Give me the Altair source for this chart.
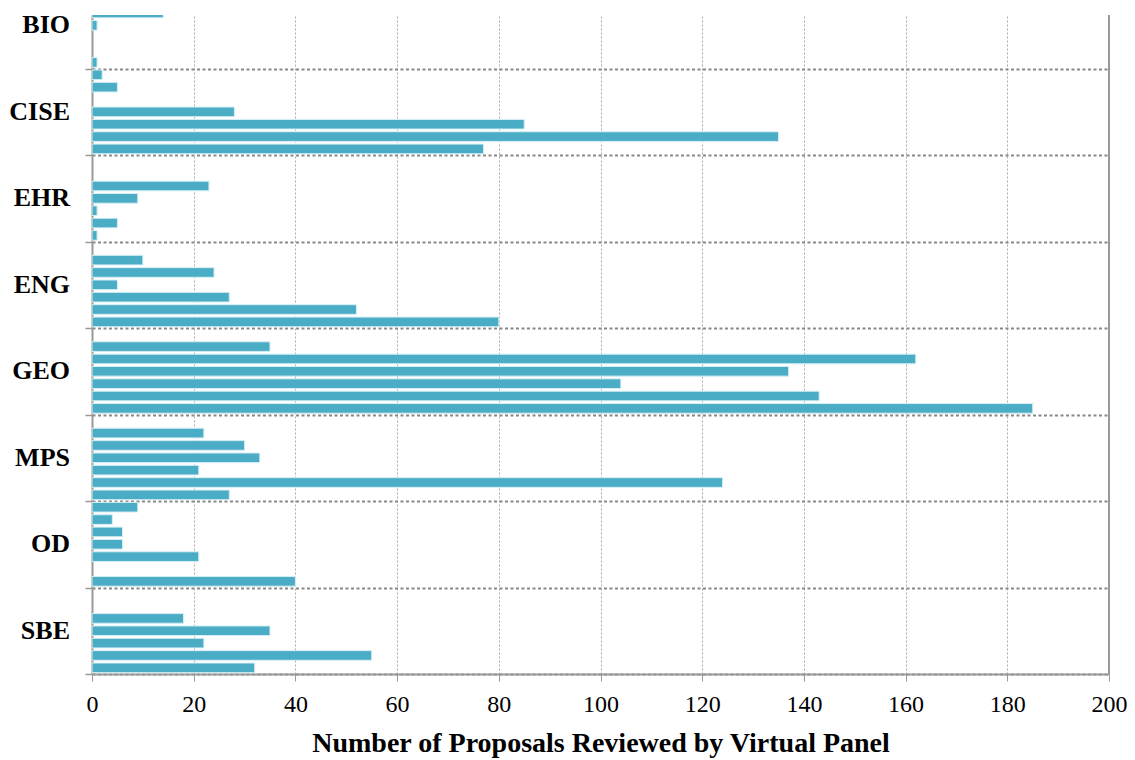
import altair as alt
import pandas as pd

# Directorates (top to bottom) and seven slots per directorate
groups = ["BIO", "CISE", "EHR", "ENG", "GEO", "MPS", "OD", "SBE"]
slot_names = ["1", "2", "3", "4", "5", "6", "7"]

bio = [None, None, 14, 1, None, None, 1]
cise = [2, 5, None, 28, 85, 135, 77]
ehr = [None, None, 23, 9, 1, 5, 1]
eng = [None, 10, 24, 5, 27, 52, 80]
geo = [None, 35, 162, 137, 104, 143, 185]
mps = [None, 22, 30, 33, 21, 124, 27]
od = [9, 4, 6, 6, 21, None, 40]
sbe = [None, None, 18, 35, 22, 55, 32]

x_ticks = [0, 20, 40, 60, 80, 100, 120, 140, 160, 180, 200]

series = [bio, cise, ehr, eng, geo, mps, od, sbe]
rows = []
for gi, (g, vals) in enumerate(zip(groups, series)):
    for si, v in enumerate(vals):
        if v is not None:
            rows.append({"group": g, "gi": gi, "slot": slot_names[si], "si": si, "value": v})
df = pd.DataFrame(rows)
lab = pd.DataFrame({"group": groups, "gi": list(range(len(groups)))})

FONT = "Liberation Serif"
yscale = alt.Scale(domain=[2.66, 56], reverse=True, nice=False, zero=False)
xscale = alt.Scale(domain=[0, 200], nice=False)

bars = (
    alt.Chart(df)
    .transform_calculate(
        y0="datum.gi * 7 + datum.si + 0.5 - 0.39",
        y1="datum.gi * 7 + datum.si + 0.5 + 0.39",
    )
    .mark_bar(color="#4BACC6", stroke="#D6EEF4", strokeWidth=1, clip=True)
    .encode(
        x=alt.X(
            "value:Q",
            scale=xscale,
            axis=alt.Axis(
                values=x_ticks,
                title="Number of Proposals Reviewed by Virtual Panel",
                titleFont=FONT,
                titleFontSize=28,
                titleFontWeight="bold",
                titleColor="black",
                titlePadding=13,
                labelFont=FONT,
                labelFontSize=24,
                labelColor="black",
                labelPadding=11,
                labelFlush=False,
                tickSize=7,
                tickColor="#999999",
                domainColor="#999999",
                domainWidth=2,
                grid=True,
                gridColor="#AAAAAA",
                gridDash=[2, 2],
                gridWidth=1,
            ),
        ),
        x2=alt.datum(0),
        y=alt.Y(
            "y0:Q",
            scale=yscale,
            axis=alt.Axis(
                values=[7, 14, 21, 28, 35, 42, 49, 56],
                labels=False,
                title=None,
                tickSize=7,
                tickColor="#999999",
                tickWidth=1.5,
                domainColor="#999999",
                domainWidth=2,
                grid=True,
                gridColor="#888888",
                gridDash=[3, 2.5],
                gridWidth=2,
            ),
        ),
        y2="y1:Q",
    )
)

labels = (
    alt.Chart(lab)
    .transform_calculate(c="datum.gi * 7 + 3.5")
    .mark_text(align="right", baseline="middle", font=FONT, fontSize=26, fontWeight="bold", color="black")
    .encode(
        x=alt.value(-22),
        y=alt.Y("c:Q", scale=yscale),
        text="group:N",
    )
)

right_border = (
    alt.Chart(pd.DataFrame({"x": [200]}))
    .mark_rule(color="#999999", strokeWidth=2)
    .encode(x=alt.X("x:Q", scale=xscale))
)

chart = (
    alt.layer(bars, right_border, labels)
    .properties(
        width=1017,
        height=659,
        autosize=alt.AutoSizeParams(type="none"),
        padding={"left": 84, "top": 7, "right": 18, "bottom": 86},
        background="white",
    )
    .configure_view(stroke=None)
)

chart.save("out.html", embed_options={"renderer": "svg", "actions": False})
